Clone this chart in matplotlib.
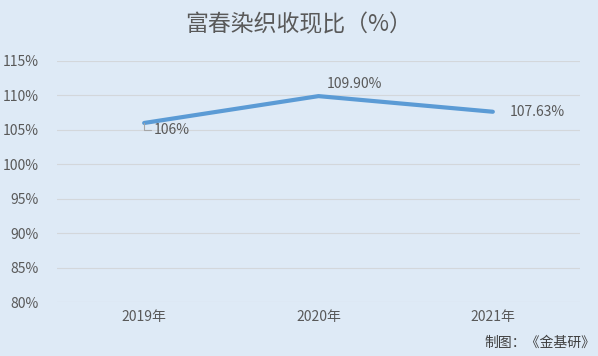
import matplotlib
matplotlib.use("Agg")
import matplotlib.pyplot as plt

plt.rcParams['font.family'] = ['Noto Sans CJK SC', 'DejaVu Sans']

categories = ["2019年", "2020年", "2021年"]
values = [106.0, 109.9, 107.63]
labels = ["106%", "109.90%", "107.63%"]
yticks = [80, 85, 90, 95, 100, 105, 110, 115]

bg = "#DEEAF6"
txt = "#595959"

fig = plt.figure(figsize=(5.98, 3.56), dpi=100, facecolor=bg)
ax = fig.add_axes([57/598, 1-302/356, (580-57)/598, (302-61)/356], facecolor=bg)

x = list(range(len(categories)))
ax.plot(x, values, color="#5B9BD5", linewidth=3.0, solid_capstyle="round", zorder=3)

ax.set_xlim(-0.5, len(categories) - 0.5)
ax.set_ylim(80, 115)
ax.set_yticks(yticks)
ax.set_yticklabels([f"{v}%" for v in yticks])
ax.set_xticks(x)
ax.set_xticklabels(categories)
ax.tick_params(axis='both', length=0, colors=txt, labelsize=10)
ax.tick_params(axis='y', pad=13)
ax.tick_params(axis='x', pad=6)
for s in ax.spines.values():
    s.set_visible(False)
ax.grid(axis='y', color="#D3D7DB", linewidth=0.8)
ax.set_axisbelow(True)

# data labels
ax.annotate(labels[0], xy=(x[0], values[0]), xytext=(7, -5), textcoords="offset points",
            ha="left", va="center", fontsize=10, color=txt,
            arrowprops=dict(arrowstyle="-", color="#A6A6A6", lw=0.8,
                            connectionstyle="angle,angleA=0,angleB=90,rad=0",
                            shrinkA=0, shrinkB=0))
ax.annotate(labels[1], xy=(x[1], values[1]), xytext=(6, 9), textcoords="offset points",
            ha="left", va="center", fontsize=10, color=txt)
ax.annotate(labels[2], xy=(x[2], values[2]), xytext=(12, 0), textcoords="offset points",
            ha="left", va="center", fontsize=10, color=txt)

fig.text(0.5, 1-25/356, "富春染织收现比（%）", ha="center", va="center",
         fontsize=16.5, color=txt)
fig.text(595/598, 1-343/356, "制图：《金基研》", ha="right", va="center",
         fontsize=10, color="#404040")

fig.savefig("out.png", dpi=100, facecolor=bg)
